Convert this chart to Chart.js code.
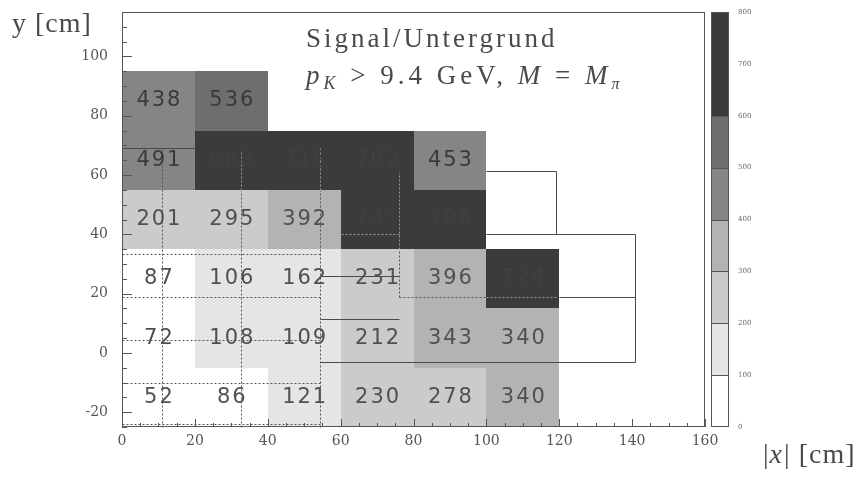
<!DOCTYPE html>
<html>
<head>
<meta charset="utf-8">
<script src="https://cdn.jsdelivr.net/npm/chart.js@4.4.1/dist/chart.umd.min.js"></script>
<style>
    html, body { margin: 0; padding: 0; background: #fff; }
    #wrap { width: 863px; height: 479px; }
</style>
</head>
<body>
<div id="wrap"><canvas id="mapChart"></canvas></div>
<script>
// Zellgrenzen in cm
const xEdges = [0, 20, 40, 60, 80, 100, 120];
const yEdges = [-25, -5, 15, 35, 55, 75, 95];

// Werte je Zeile, von unten nach oben (null = leere Zelle)
const rowM15 = [52, 86, 121, 230, 278, 340];
const row5 = [72, 108, 109, 212, 343, 340];
const row25 = [87, 106, 162, 231, 396, 724];
const row45 = [201, 295, 392, 741, 706, null];
const row65 = [491, 688, 715, 702, 453, null];
const row85 = [438, 536, null, null, null, null];
const cellRows = [rowM15, row5, row25, row45, row65, row85];

// Farbskala
const zLevels = [0, 100, 200, 300, 400, 500, 600, 700, 800];
const zColors = ['#ffffff', '#e5e5e5', '#cbcbcb', '#b3b3b3', '#858585', '#6e6e6e', '#3b3b3b', '#3b3b3b'];

// Ueberlagerte Kaesten (x0, y0, x1, y1 in cm)
const boxLines = [
    [100, 61.3, 119.1, 61.3],
    [119.1, 61.3, 119.1, 40],
    [100, 40, 140.7, 40],
    [140.7, 40, 140.7, -3.2],
    [120, 18.7, 140.7, 18.7],
    [54.3, -3.2, 140.7, -3.2],
    [54.3, 25.9, 75.9, 25.9],
    [54.3, 11.3, 75.9, 11.3],
    [0, 69, 20, 69]
];
const dotLines = [
    [0, 33.2, 54.3, 33.2],
    [0, 18.7, 54.3, 18.7],
    [0, 4.5, 54.3, 4.5],
    [0, -10.3, 54.3, -10.3],
    [0, -24, 54.3, -24],
    [11.1, -25, 11.1, 69],
    [32.7, -25, 32.7, 55],
    [54.3, -25, 54.3, 55],
    [75.9, 18.7, 75.9, 35],
    [75.9, 18.7, 100, 18.7]
];
const dotLinesDark = [
    [32.7, 55, 32.7, 68],
    [54.3, 55, 54.3, 69],
    [75.9, 35, 75.9, 61],
    [60, 40, 75.9, 40],
    [100, 18.7, 119.1, 18.7]
];

function colorFor(v) {
    for (let k = 0; k < zColors.length; k++) {
        if (v < zLevels[k + 1]) return zColors[k];
    }
    return zColors[zColors.length - 1];
}

function textColorFor(v) {
    if (v >= 600) return '#404040';
    if (v >= 400) return '#3a3a3a';
    return '#505050';
}

function drawSegs(ctx, xs, ys, segs) {
    segs.forEach(s => {
        ctx.beginPath();
        ctx.moveTo(Math.round(xs.getPixelForValue(s[0])) + 0.5, Math.round(ys.getPixelForValue(s[1])) + 0.5);
        ctx.lineTo(Math.round(xs.getPixelForValue(s[2])) + 0.5, Math.round(ys.getPixelForValue(s[3])) + 0.5);
        ctx.stroke();
    });
}

// Achsen ohne Zusatzrand, damit die Flaeche exakt sitzt
function fixBox(size, key) {
    return s => {
        s[key] = size;
        s.paddingTop = 0;
        s.paddingBottom = 0;
        s.paddingLeft = 0;
        s.paddingRight = 0;
    };
}

const mapPlugin = {
    id: 'zellenKarte',
    afterDraw(chart) {
        const ctx = chart.ctx;
        const xs = chart.scales.x;
        const ys = chart.scales.y;
        const zs = chart.scales.z;
        const area = chart.chartArea;
        ctx.save();

        // Zellen
        cellRows.forEach((row, j) => {
            row.forEach((v, i) => {
                if (v === null) return;
                const x0 = Math.round(xs.getPixelForValue(xEdges[i]));
                const x1 = Math.round(xs.getPixelForValue(xEdges[i + 1]));
                const y0 = Math.round(ys.getPixelForValue(yEdges[j]));
                const y1 = Math.round(ys.getPixelForValue(yEdges[j + 1]));
                ctx.fillStyle = colorFor(v);
                ctx.fillRect(x0, y1, x1 - x0, y0 - y1);
            });
        });

        // Linien
        ctx.lineWidth = 1;
        ctx.strokeStyle = '#4a4a4a';
        drawSegs(ctx, xs, ys, boxLines);
        ctx.setLineDash([2, 2]);
        ctx.strokeStyle = '#555';
        drawSegs(ctx, xs, ys, dotLines);
        ctx.strokeStyle = '#9a9a9a';
        drawSegs(ctx, xs, ys, dotLinesDark);
        ctx.setLineDash([]);

        // Zahlen in den Zellen
        ctx.font = '21px "DejaVu Sans"';
        ctx.textAlign = 'center';
        ctx.textBaseline = 'middle';
        if ('letterSpacing' in ctx) ctx.letterSpacing = '2px';
        cellRows.forEach((row, j) => {
            row.forEach((v, i) => {
                if (v === null) return;
                const cx = xs.getPixelForValue((xEdges[i] + xEdges[i + 1]) / 2);
                const cy = ys.getPixelForValue((yEdges[j] + yEdges[j + 1]) / 2);
                ctx.fillStyle = textColorFor(v);
                ctx.fillText(String(v), cx + 1, cy);
            });
        });
        if ('letterSpacing' in ctx) ctx.letterSpacing = '0px';

        // Rahmen
        ctx.strokeStyle = '#555';
        ctx.strokeRect(area.left + 0.5, area.top + 0.5, area.right - area.left - 1, area.bottom - area.top - 1);

        // Striche nach innen
        xs.ticks.forEach(t => {
            const px = Math.round(xs.getPixelForValue(t.value)) + 0.5;
            const len = t.value % 20 === 0 ? 8 : 4;
            ctx.beginPath();
            ctx.moveTo(px, area.bottom);
            ctx.lineTo(px, area.bottom - len);
            ctx.stroke();
        });
        ys.ticks.forEach(t => {
            const py = Math.round(ys.getPixelForValue(t.value)) + 0.5;
            const len = t.value % 20 === 0 ? 10 : 5;
            ctx.beginPath();
            ctx.moveTo(area.left, py);
            ctx.lineTo(area.left + len, py);
            ctx.stroke();
        });

        // Farbskala
        const bx = area.right + 6;
        const bw = 18;
        for (let k = 0; k < zColors.length; k++) {
            const yTop = Math.round(zs.getPixelForValue(zLevels[k + 1]));
            const yBot = Math.round(zs.getPixelForValue(zLevels[k]));
            ctx.fillStyle = zColors[k];
            ctx.fillRect(bx, yTop, bw, yBot - yTop);
            if (k > 0 && zColors[k] !== zColors[k - 1]) {
                ctx.strokeStyle = '#555';
                ctx.beginPath();
                ctx.moveTo(bx, yBot + 0.5);
                ctx.lineTo(bx + bw, yBot + 0.5);
                ctx.stroke();
            }
        }
        ctx.strokeStyle = '#555';
        ctx.strokeRect(bx + 0.5, area.top + 0.5, bw - 1, area.bottom - area.top - 1);

        // Beschriftungen
        ctx.fillStyle = '#4a4a4a';
        ctx.textAlign = 'left';
        ctx.textBaseline = 'alphabetic';
        if ('letterSpacing' in ctx) ctx.letterSpacing = '1px';
        ctx.font = '28px "Liberation Serif"';
        ctx.fillText('y [cm]', 12, 32);

        let x = 763;
        ctx.fillText('|', x, 463);
        x += ctx.measureText('|').width;
        ctx.font = 'italic 28px "Liberation Serif"';
        ctx.fillText('x', x, 463);
        x += ctx.measureText('x').width + 1;
        ctx.font = '28px "Liberation Serif"';
        ctx.fillText('| [cm]', x, 463);

        if ('letterSpacing' in ctx) ctx.letterSpacing = '3px';
        ctx.font = '27px "Liberation Serif"';
        ctx.fillText('Signal/Untergrund', 306, 47);

        // zweite Zeile mit Formelteilen
        if ('letterSpacing' in ctx) ctx.letterSpacing = '4px';
        const parts = [
            ['p', 'italic 27px "Liberation Serif"', 0],
            ['K', 'italic 18px "Liberation Serif"', 5],
            [' > 9.4 GeV, ', '27px "Liberation Serif"', 0],
            ['M', 'italic 27px "Liberation Serif"', 0],
            [' = ', '27px "Liberation Serif"', 0],
            ['M', 'italic 27px "Liberation Serif"', 0],
            ['\u03c0', 'italic 16px "Liberation Serif"', 5]
        ];
        x = 306;
        parts.forEach(p => {
            ctx.font = p[1];
            ctx.fillText(p[0], x, 84 + p[2]);
            x += ctx.measureText(p[0]).width;
        });
        if ('letterSpacing' in ctx) ctx.letterSpacing = '0px';
        ctx.restore();
    }
};

const tickFont = { family: 'DejaVu Serif', size: 14 };

new Chart(document.getElementById('mapChart'), {
    type: 'scatter',
    data: { datasets: [] },
    options: {
        responsive: true,
        maintainAspectRatio: false,
        animation: false,
        events: [],
        layout: { padding: { top: 12, left: 0, right: 0, bottom: 0 } },
        plugins: { legend: { display: false }, tooltip: { enabled: false } },
        scales: {
            x: {
                type: 'linear', min: 0, max: 160,
                grid: { display: false, drawTicks: false },
                border: { display: false },
                ticks: {
                    stepSize: 5, autoSkip: false, maxRotation: 0, padding: 6,
                    color: '#555', font: tickFont,
                    callback: v => (v % 20 === 0 ? v : '')
                },
                afterFit: fixBox(52, 'height')
            },
            y: {
                type: 'linear', min: -25, max: 115,
                grid: { display: false, drawTicks: false },
                border: { display: false },
                ticks: {
                    stepSize: 5, autoSkip: false, padding: 14,
                    color: '#555', font: tickFont,
                    callback: v => (v % 20 === 0 && v <= 100 ? v : '')
                },
                afterFit: fixBox(122, 'width')
            },
            z: {
                type: 'linear', position: 'right', min: 0, max: 800,
                grid: { display: false, drawTicks: false },
                border: { display: false },
                ticks: {
                    stepSize: 100, autoSkip: false, padding: 33,
                    color: '#666', font: { family: 'DejaVu Serif', size: 7 }
                },
                afterFit: fixBox(158, 'width')
            }
        }
    },
    plugins: [mapPlugin]
});
</script>
</body>
</html>
